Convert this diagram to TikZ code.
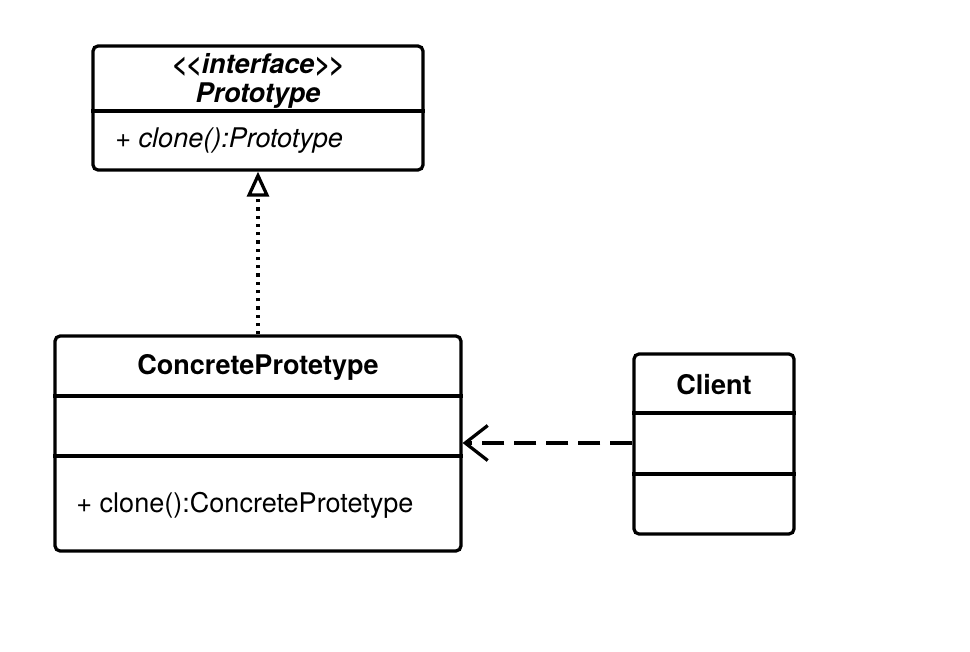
\documentclass[tikz,border=0pt]{standalone}
\usepackage{fontspec}
\setmainfont{TeX Gyre Heros}
\usetikzlibrary{arrows.meta}

\begin{document}
\begin{tikzpicture}[x=0.02cm, y=-0.02cm]
\tikzset{classe/.style={draw, rounded corners=0.1cm, line width=0.065cm, inner sep=0pt},
  ligne/.style={line width=0.065cm},
  texte/.style={inner sep=0pt, font=\fontsize{15.4}{17}\selectfont}}
\useasboundingbox (0,0) rectangle (970,652);
\node[classe, minimum width=6.6cm, minimum height=2.48cm] (P) at (258,108) {};
\node[classe, minimum width=8.12cm, minimum height=4.3cm] (C) at (258,443.5) {};
\node[classe, minimum width=3.2cm, minimum height=3.6cm] (K) at (714,444) {};
\draw[ligne] (P.west |- 0,111) -- (P.east |- 0,111);
\draw[ligne] (C.west |- 0,396) -- (C.east |- 0,396);
\draw[ligne] (C.west |- 0,456) -- (C.east |- 0,456);
\draw[ligne] (K.west |- 0,413) -- (K.east |- 0,413);
\draw[ligne] (K.west |- 0,474) -- (K.east |- 0,474);
\node[texte] (P1) at (258,65) {\bfseries\itshape <\kern-1pt<interface>\kern-1pt>};
\node[texte] (P2) at (258,96) {\bfseries\itshape Prototype};
\node[texte, anchor=west] (P3) at (115,141) {\itshape + clone():Prototype};
\node[texte] (C1) at (258,367) {\bfseries ConcreteProtetype};
\node[texte, anchor=west] (C2) at (76,505) {+ clone():ConcreteProtetype};
\node[texte] (K1) at (714,385) {\bfseries Client};
\draw[ligne, dash pattern=on 0.065cm off 0.1cm, -{Triangle[open, length=0.5cm, width=0.44cm, line width=0.065cm]}] (C.north) -- (P.south);
\draw[ligne, dash pattern=on 0.44cm off 0.2cm, -{Straight Barb[length=0.45cm, width=0.7cm, line width=0.065cm]}] (K.west |- 0,443) -- (C.east |- 0,443);
\end{tikzpicture}
\end{document}
